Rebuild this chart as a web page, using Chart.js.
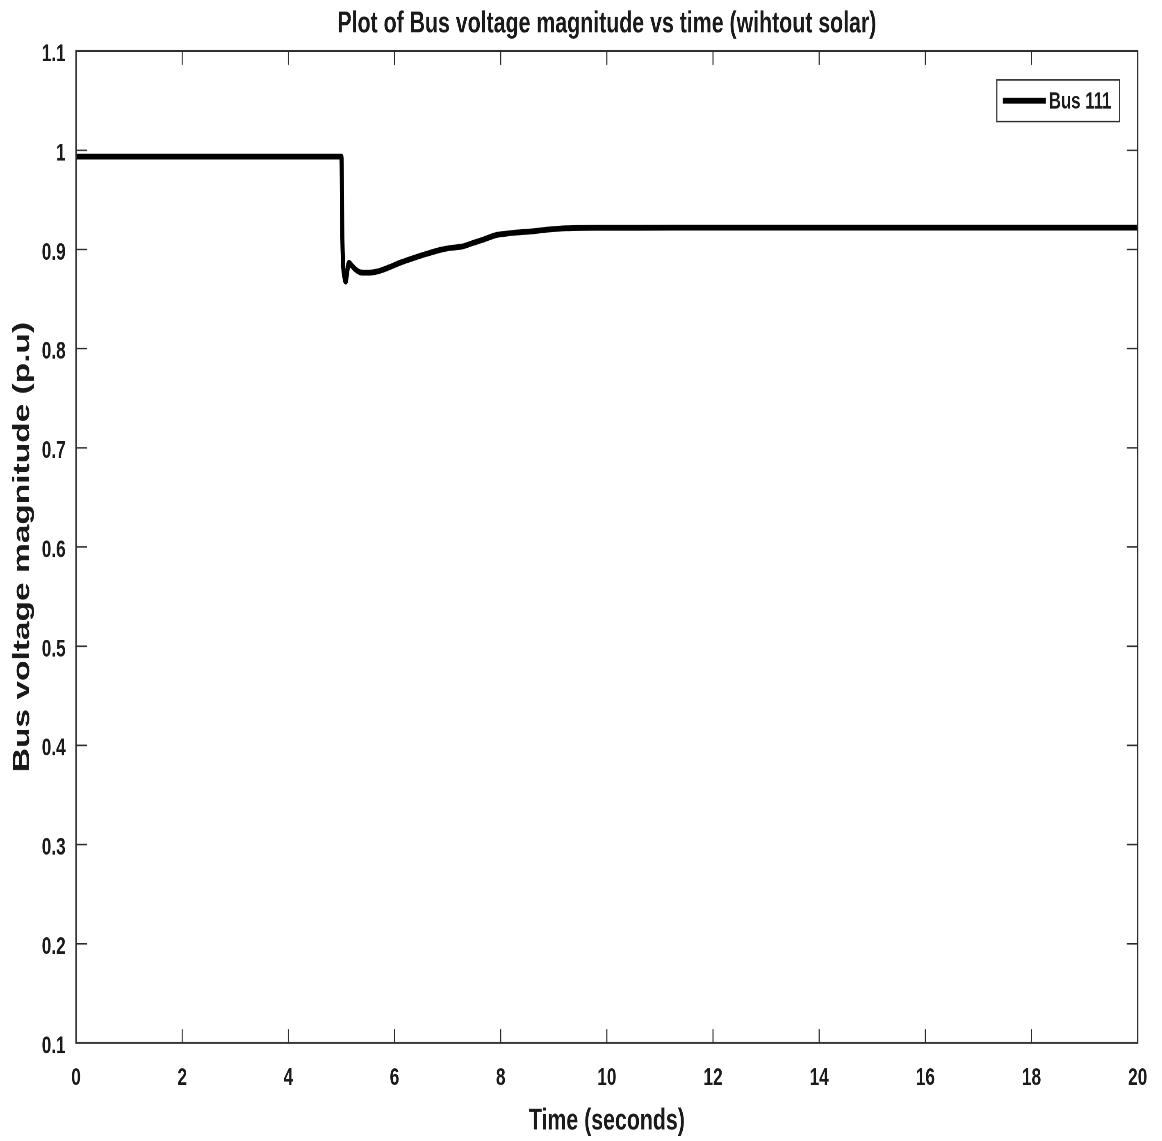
<!DOCTYPE html>
<html>
<head>
<meta charset="utf-8">
<title>Bus voltage magnitude vs time</title>
<script src="https://cdn.jsdelivr.net/npm/chart.js@4/dist/chart.umd.min.js"></script>
<style>
  html, body { margin: 0; padding: 0; background: #ffffff; }
  #page { position: relative; width: 1162px; height: 1141px; overflow: hidden; background: #ffffff; }
  /* the figure is drawn on a 1417x988 canvas and scaled to the 1162x1141 page */
  #wrap { position: absolute; left: 0; top: 0; width: 1417px; height: 988px;
          transform: scale(0.82004, 1.15486); transform-origin: 0 0; }
  canvas { display: block; }
</style>
</head>
<body>
<div id="page"><div id="wrap"><canvas id="chart" width="1417" height="988"></canvas></div></div>
<script>
// ---- data ----
const seriesLabel = 'Bus 111';
const timeSec = [0, 5.0, 5.02, 5.06, 5.08, 5.11, 5.14, 5.19, 5.26, 5.35, 5.47, 5.6, 5.75, 5.9,
  6.1, 6.34, 6.6, 6.85, 7.05, 7.28, 7.45, 7.65, 7.92, 8.2, 8.54, 8.9, 9.24, 9.8, 10.6, 12, 16, 20];
const voltagePu = [0.9935, 0.9935, 0.905, 0.871, 0.8675, 0.878, 0.8866, 0.884, 0.880, 0.877, 0.8765, 0.877, 0.879, 0.882,
  0.8865, 0.891, 0.8955, 0.8994, 0.9015, 0.903, 0.906, 0.9095, 0.9145, 0.9165, 0.918, 0.920, 0.9213, 0.9218, 0.9218, 0.922, 0.922, 0.922];

const xTickValues = [0, 2, 4, 6, 8, 10, 12, 14, 16, 18, 20];
const yTickValues = [0.1, 0.2, 0.3, 0.4, 0.5, 0.6, 0.7, 0.8, 0.9, 1, 1.1];
const yTickLabels = ['0.1', '0.2', '0.3', '0.4', '0.5', '0.6', '0.7', '0.8', '0.9', '1', '1.1'];

const chartTitle = 'Plot of Bus voltage magnitude vs time (wihtout solar)';
const xAxisTitle = 'Time (seconds)';
const yAxisTitle = 'Bus voltage magnitude (p.u)';

// ---- styling ----
const FONT = "'Liberation Sans', Arial, Helvetica, sans-serif";
const TEXT = '#1a1a1a';
const AXIS = '#2b2b2b';
const TICK_LEN_H = 13.4;   // length of the y-axis tick marks
const TICK_LEN_V = 12;     // length of the x-axis tick marks

const points = timeSec.map((t, i) => ({ x: t, y: voltagePu[i] }));

// white background
const background = {
  id: 'background',
  beforeDraw(chart) {
    const ctx = chart.ctx;
    ctx.save();
    ctx.fillStyle = '#ffffff';
    ctx.fillRect(0, 0, chart.width, chart.height);
    ctx.restore();
  }
};

// boxed axes with inward tick marks on all four sides, plus title and legend
const boxAxes = {
  id: 'boxAxes',
  afterDraw(chart) {
    const { ctx, chartArea: a, scales } = chart;
    ctx.save();
    ctx.strokeStyle = AXIS;
    ctx.lineWidth = 1.6;
    ctx.strokeRect(a.left, a.top, a.right - a.left, a.bottom - a.top);

    ctx.lineWidth = 1.3;
    ctx.beginPath();
    scales.x.ticks.forEach(t => {
      const px = scales.x.getPixelForValue(t.value);
      if (px <= a.left + 1 || px >= a.right - 1) return;
      ctx.moveTo(px, a.bottom); ctx.lineTo(px, a.bottom - TICK_LEN_V);
      ctx.moveTo(px, a.top); ctx.lineTo(px, a.top + TICK_LEN_V);
    });
    scales.y.ticks.forEach(t => {
      const py = scales.y.getPixelForValue(t.value);
      if (py <= a.top + 1 || py >= a.bottom - 1) return;
      ctx.moveTo(a.left, py); ctx.lineTo(a.left + TICK_LEN_H, py);
      ctx.moveTo(a.right, py); ctx.lineTo(a.right - TICK_LEN_H, py);
    });
    ctx.stroke();

    // title
    ctx.fillStyle = TEXT;
    ctx.font = 'bold 26px ' + FONT;
    ctx.textAlign = 'center';
    ctx.textBaseline = 'middle';
    ctx.fillText(chartTitle, (a.left + a.right) / 2, 21);

    // legend
    const ds = chart.data.datasets[0];
    ctx.font = 'bold 20.5px ' + FONT;
    const tw = ctx.measureText(ds.label).width;
    const bw = 63.4 + tw + 10;
    const bh = 36;
    const bx = a.right - 22 - bw;
    const by = a.top + 25;
    ctx.fillStyle = '#ffffff';
    ctx.fillRect(bx, by, bw, bh);
    ctx.strokeStyle = AXIS;
    ctx.lineWidth = 1.3;
    ctx.strokeRect(bx, by, bw, bh);
    ctx.strokeStyle = ds.borderColor;
    ctx.lineWidth = ds.borderWidth;
    ctx.beginPath();
    ctx.moveTo(bx + 7.3, by + bh / 2);
    ctx.lineTo(bx + 59.8, by + bh / 2);
    ctx.stroke();
    ctx.fillStyle = TEXT;
    ctx.textAlign = 'left';
    ctx.fillText(ds.label, bx + 63.4, by + bh / 2 + 1);
    ctx.restore();
  }
};

new Chart(document.getElementById('chart'), {
  type: 'line',
  data: {
    datasets: [{
      label: seriesLabel,
      data: points,
      borderColor: '#000000',
      borderWidth: 5,
      pointRadius: 0,
      fill: false,
      cubicInterpolationMode: 'monotone'
    }]
  },
  options: {
    responsive: false,
    animation: false,
    devicePixelRatio: 2,
    layout: { padding: { top: 44.2, right: 28, bottom: 0, left: 0 } },
    plugins: {
      legend: { display: false },
      title: { display: false },
      tooltip: { enabled: false }
    },
    scales: {
      x: {
        type: 'linear',
        min: 0,
        max: 20,
        afterBuildTicks(scale) { scale.ticks = xTickValues.map(v => ({ value: v })); },
        afterFit(scale) { scale.height = 84.9; },
        grid: { display: false, drawTicks: false },
        border: { display: false },
        ticks: {
          color: TEXT,
          padding: 18,
          maxRotation: 0,
          autoSkip: false,
          font: { family: FONT, size: 21, weight: 'bold' },
          callback: v => String(v)
        },
        title: {
          display: true,
          text: xAxisTitle,
          color: TEXT,
          font: { family: FONT, size: 26, weight: 'bold' },
          padding: { top: 0, bottom: 1.7 }
        }
      },
      y: {
        type: 'linear',
        min: 0.1,
        max: 1.1,
        afterBuildTicks(scale) { scale.ticks = yTickValues.map(v => ({ value: v })); },
        afterFit(scale) { scale.width = 92.7; },
        grid: { display: false, drawTicks: false },
        border: { display: false },
        ticks: {
          color: TEXT,
          padding: 12.6,
          labelOffset: 3,
          autoSkip: false,
          font: { family: FONT, size: 21, weight: 'bold' },
          callback: v => {
            const i = yTickValues.findIndex(t => Math.abs(t - v) < 1e-9);
            return i >= 0 ? yTickLabels[i] : '';
          }
        },
        title: {
          display: true,
          text: yAxisTitle,
          color: TEXT,
          font: { family: FONT, size: 29, weight: 'bold' },
          padding: { top: 10.3, bottom: 0 }
        }
      }
    }
  },
  plugins: [background, boxAxes]
});
</script>
</body>
</html>
